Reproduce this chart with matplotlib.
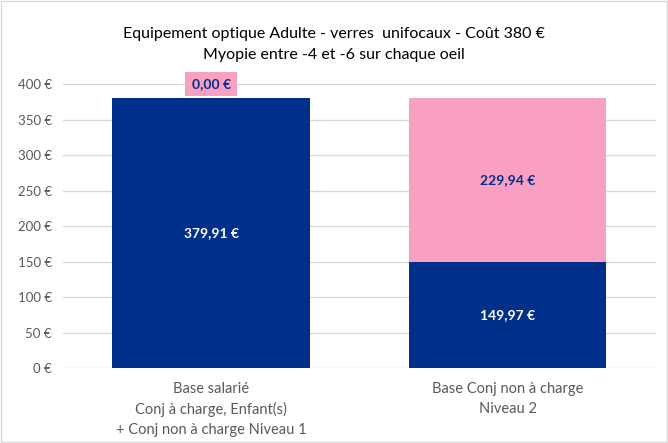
import matplotlib.pyplot as plt
from matplotlib.patches import Rectangle

plt.rcParams['font.family'] = ['Lato', 'DejaVu Sans']

categories = ["Base salarié\nConj à charge, Enfant(s)\n+ Conj non à charge Niveau 1",
              "Base Conj non à charge\nNiveau 2"]
rembourse = [379.91, 149.97]
reste = [0.00, 229.94]
yticks = [0, 50, 100, 150, 200, 250, 300, 350, 400]

navy = "#00308A"
pink = "#F9A0C2"

fig = plt.figure(figsize=(6.68, 4.43), dpi=100)
ax = fig.add_axes([0.094, 0.169, 0.888, 0.641])

x = range(len(categories))
ax.bar(x, rembourse, width=0.665, color=navy, zorder=2)
ax.bar(x, reste, bottom=rembourse, width=0.665, color=pink, zorder=2)

def fmt(v):
    return f"{v:.2f}".replace(".", ",") + " €"

for i in x:
    b, r = rembourse[i], reste[i]
    ax.text(i, b / 2, fmt(b), ha="center", va="center", color="white",
            fontsize=10, fontweight="bold")
    if r > 0:
        ax.text(i, b + r / 2, fmt(r), ha="center", va="center", color=navy,
                fontsize=10, fontweight="bold")
    else:
        ax.text(i, b + 20, fmt(r), ha="center", va="center", color=navy,
                fontsize=10, fontweight="bold",
                bbox=dict(boxstyle="square,pad=0.45", fc=pink, ec="none"))

ax.set_xlim(-0.5, 1.5)
ax.set_ylim(0, 400)
ax.set_yticks(yticks)
ax.set_yticklabels([f"{t} €" for t in yticks], color="#595959", fontsize=9.5)
ax.set_xticks(list(x))
ax.set_xticklabels(categories, color="#595959", fontsize=10.5, linespacing=1.5)
ax.tick_params(axis="y", length=0, pad=8)
ax.tick_params(axis="x", length=0, pad=10)
ax.grid(axis="y", color="#d9d9d9", linewidth=1, zorder=0)
for s in ax.spines.values():
    s.set_visible(False)

fig.text(0.5, 0.9, "Equipement optique Adulte - verres  unifocaux - Coût 380 €\n"
         "Myopie entre -4 et -6 sur chaque oeil", ha="center", va="center",
         fontsize=11.5, linespacing=1.6)

fig.patches.append(Rectangle((0.002, 0.003), 0.996, 0.994, transform=fig.transFigure,
                             fill=False, ec="#d9d9d9", lw=1))

fig.savefig("out.png", dpi=100)
